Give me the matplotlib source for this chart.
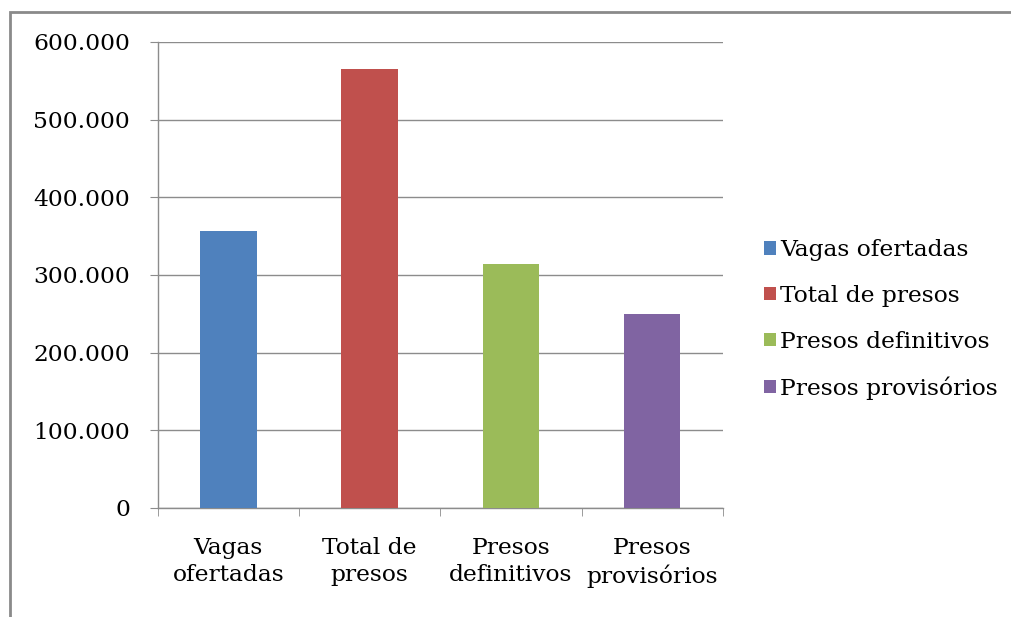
import matplotlib.pyplot as plt
from matplotlib.patches import Rectangle, Patch
from matplotlib.ticker import FuncFormatter

plt.rcParams["font.family"] = "DejaVu Serif"

# dados
categorias = ["Vagas\nofertadas", "Total de\npresos", "Presos\ndefinitivos", "Presos\nprovisórios"]
nomes_legenda = ["Vagas ofertadas", "Total de presos", "Presos definitivos", "Presos provisórios"]
valores = [357000, 565000, 314000, 250000]
cores = ["#4F81BD", "#C0504D", "#9BBB59", "#8064A2"]
yticks = [0, 100000, 200000, 300000, 400000, 500000, 600000]

FONT = 16.8
GRID = "#8c8c8c"

fig = plt.figure(figsize=(10.11, 6.17), dpi=100)
ax = fig.add_axes([0.156, 0.177, 0.559, 0.755])

x = list(range(len(valores)))
ax.bar(x, valores, width=0.4, color=cores, zorder=3)

ax.set_xlim(-0.5, 3.5)
ax.set_ylim(0, 600000)
ax.set_yticks(yticks)
ax.yaxis.set_major_formatter(FuncFormatter(lambda v, p: f"{int(v):,}".replace(",", ".")))
ax.grid(axis="y", color=GRID, linewidth=1, zorder=0)

ax.set_xticks(x)
ax.set_xticklabels(categorias, fontsize=FONT, linespacing=1.32)
ax.set_xticks([-0.5, 0.5, 1.5, 2.5, 3.5], minor=True)
ax.tick_params(axis="x", which="major", length=0, pad=21)
ax.tick_params(axis="x", which="minor", length=6, color=GRID)
ax.tick_params(axis="y", length=6, color=GRID, labelsize=FONT, pad=14)

for s in ["top", "right"]:
    ax.spines[s].set_visible(False)
for s in ["left", "bottom"]:
    ax.spines[s].set_color(GRID)
    ax.spines[s].set_linewidth(1)

handles = [Patch(facecolor=c, edgecolor="none") for c in cores]
fig.legend(handles, nomes_legenda, loc="center left", bbox_to_anchor=(0.735, 0.482),
           frameon=False, fontsize=16.8, handlelength=0.5, handleheight=0.5,
           handletextpad=0.2, labelspacing=1.02)

# moldura externa
fig.patches.append(Rectangle((10 / 1011, -0.1), 1.2, 1 - 12 / 617 + 0.1,
                             transform=fig.transFigure, fill=False,
                             edgecolor="#8a8a8a", linewidth=2))

fig.savefig("out.png", dpi=100)
